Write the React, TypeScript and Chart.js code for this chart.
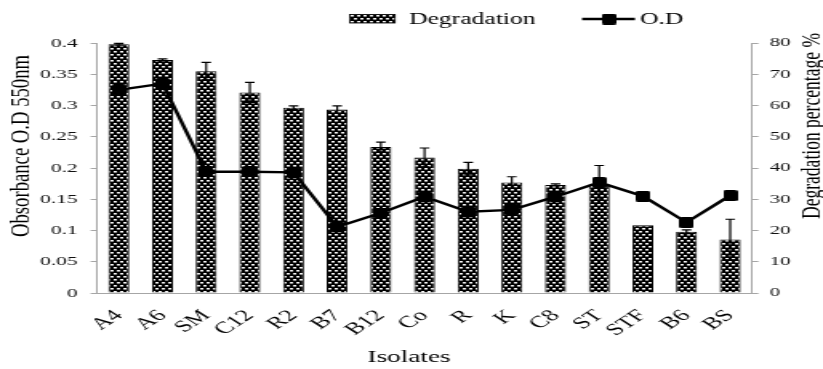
import React, { useEffect, useRef } from "react";
import { Chart, registerables } from "chart.js";

Chart.register(...registerables);

// ---- data ----
const isolates = ["A4", "A6", "SM", "C12", "R2", "B7", "B12", "Co", "R", "K", "C8", "ST", "STF", "B6", "BS"];
const degradation = [79.6, 74.6, 71.0, 64.2, 59.3, 58.7, 46.7, 43.4, 39.8, 35.4, 34.6, 34.8, 21.7, 19.6, 17.1];
const degradationError = [0.3, 0.3, 2.8, 3.2, 0.6, 1.2, 1.6, 3.0, 2.0, 1.8, 0.3, 6.0, 0, 0.6, 6.5];
const odValues = [0.325, 0.335, 0.194, 0.194, 0.193, 0.106, 0.128, 0.154, 0.13, 0.133, 0.154, 0.177, 0.155, 0.113, 0.156];
const odTicks = [0, 0.05, 0.1, 0.15, 0.2, 0.25, 0.3, 0.35, 0.4];
const degTicks = [0, 10, 20, 30, 40, 50, 60, 70, 80];
const legendLabels = ["Degradation", "O.D"];
const leftTitle = "Obsorbance O.D 550nm";
const rightTitle = "Degradation percentage %";
const xTitle = "Isolates";

// ---- layout (the figure is horizontally stretched) ----
const CSS_W = 823;
const H = 369;
const W = 514;
const cx = (css: number) => (css * W) / CSS_W;
const LEFT = cx(97);
const RIGHT = cx(752);
const TOP = 43;
const BOTTOM = 293;
const FONT = "'Liberation Serif', 'Times New Roman', serif";

function makePattern(ctx: CanvasRenderingContext2D) {
  const t = document.createElement("canvas");
  t.width = 4;
  t.height = 6;
  const g = t.getContext("2d")!;
  g.fillStyle = "#000";
  g.fillRect(0, 0, 4, 6);
  g.fillStyle = "#f4f4f4";
  g.fillRect(1, 0, 2, 1);
  g.fillRect(3, 3, 1, 1);
  g.fillRect(0, 3, 1, 1);
  g.fillStyle = "#8a8a8a";
  g.fillRect(1, 1, 2, 1);
  g.fillRect(3, 4, 1, 1);
  g.fillRect(0, 4, 1, 1);
  return ctx.createPattern(t, "repeat")!;
}

function makeMarker() {
  const m = document.createElement("canvas");
  m.width = 9;
  m.height = 11;
  const g = m.getContext("2d")!;
  g.fillStyle = "#000";
  g.beginPath();
  (g as any).roundRect ? (g as any).roundRect(0, 0, 9, 11, 1.5) : g.rect(0, 0, 9, 11);
  g.fill();
  return m;
}

function drawScaledText(
  ctx: CanvasRenderingContext2D,
  text: string,
  x: number,
  y: number,
  rot: number,
  size: number,
  targetLen: number
) {
  ctx.save();
  ctx.font = `${size}px ${FONT}`;
  const w = ctx.measureText(text).width;
  ctx.translate(x, y);
  ctx.rotate(rot);
  ctx.scale(targetLen / w, 1);
  ctx.fillStyle = "#000";
  ctx.textAlign = "center";
  ctx.textBaseline = "middle";
  ctx.fillText(text, 0, 0);
  ctx.restore();
}

export default function App() {
  const ref = useRef<HTMLCanvasElement | null>(null);

  useEffect(() => {
    document.body.style.margin = "0";
    const canvas = ref.current!;
    const ctx = canvas.getContext("2d")!;
    const pattern = makePattern(ctx);
    const marker = makeMarker();

    const overlay = {
      id: "overlay",
      afterDatasetsDraw(chart: any) {
        const c = chart.ctx as CanvasRenderingContext2D;
        const meta = chart.getDatasetMeta(0);
        const ys = chart.scales.y1;
        c.save();
        c.strokeStyle = "#000";
        c.lineWidth = 1.2;
        meta.data.forEach((el: any, i: number) => {
          const e = degradationError[i];
          if (!e) return;
          const x = el.x;
          const top = ys.getPixelForValue(degradation[i] + e);
          const bot = ys.getPixelForValue(degradation[i] - e);
          c.beginPath();
          c.moveTo(x, top);
          c.lineTo(x, bot);
          c.moveTo(x - 3, top);
          c.lineTo(x + 3, top);
          c.moveTo(x - 3, bot);
          c.lineTo(x + 3, bot);
          c.stroke();
        });
        c.restore();
      },
      afterDraw(chart: any) {
        const c = chart.ctx as CanvasRenderingContext2D;
        // axis titles
        drawScaledText(c, leftTitle, cx(21), 146, -Math.PI / 2, 17, 182);
        drawScaledText(c, rightTitle, cx(813), 126, -Math.PI / 2, 16, 186);
        c.save();
        c.font = `17px ${FONT}`;
        c.fillStyle = "#000";
        c.textAlign = "center";
        c.textBaseline = "middle";
        c.fillText(xTitle, cx(409), 358);
        c.restore();
        // legend
        c.save();
        c.fillStyle = pattern;
        const bx = cx(350);
        const bw = cx(395) - bx;
        c.fillRect(bx, 14.5, bw, 8.5);
        c.strokeStyle = "#000";
        c.lineWidth = 0.8;
        c.strokeRect(bx, 14.5, bw, 8.5);
        c.font = `16px ${FONT}`;
        c.fillStyle = "#000";
        c.textAlign = "left";
        c.textBaseline = "middle";
        c.fillText(legendLabels[0], cx(409), 19.5);
        c.beginPath();
        c.lineWidth = 2.5;
        c.moveTo(cx(582), 19);
        c.lineTo(cx(635), 19);
        c.stroke();
        c.drawImage(marker, cx(609) - marker.width / 2, 19 - marker.height / 2);
        c.fillText(legendLabels[1], cx(640), 19.5);
        c.restore();
      },
    };

    const axisGray = "#a6a6a6";
    const chart = new Chart(canvas, {
      data: {
        labels: isolates,
        datasets: [
          {
            type: "bar",
            label: legendLabels[0],
            data: degradation,
            yAxisID: "y1",
            backgroundColor: pattern as any,
            borderColor: "#000",
            borderWidth: 1,
            barPercentage: 0.48,
            categoryPercentage: 1,
            order: 2,
          },
          {
            type: "line",
            label: legendLabels[1],
            data: odValues,
            yAxisID: "y",
            borderColor: "#000",
            borderWidth: 2.5,
            pointStyle: marker as any,
            pointRadius: 6,
            pointBackgroundColor: "#000",
            tension: 0,
            order: 1,
          },
        ],
      } as any,
      options: {
        responsive: false,
        animation: false,
        devicePixelRatio: 1,
        layout: { padding: { top: TOP, left: 0, right: 0, bottom: 0 } },
        plugins: { legend: { display: false }, tooltip: { enabled: false } },
        scales: {
          x: {
            offset: true,
            grid: { display: false },
            border: { display: true, color: axisGray, width: 1 },
            ticks: {
              autoSkip: false,
              maxRotation: 45,
              minRotation: 45,
              padding: 5,
              color: "#000",
              font: { family: FONT, size: 16.5 },
            },
            afterFit: (s: any) => {
              s.height = H - BOTTOM;
            },
          },
          y: {
            position: "left",
            min: 0,
            max: 0.4,
            afterBuildTicks: (s: any) => {
              s.ticks = odTicks.map((v) => ({ value: v }));
            },
            ticks: {
              callback: (v: any) => String(Number(Number(v).toFixed(2))),
              padding: 8,
              color: "#111",
              font: { family: FONT, size: 13.5 },
            },
            grid: { drawOnChartArea: false, tickLength: 4, color: axisGray },
            border: { display: true, color: axisGray, width: 1 },
            afterFit: (s: any) => {
              s.width = LEFT;
            },
          },
          y1: {
            position: "right",
            min: 0,
            max: 80,
            afterBuildTicks: (s: any) => {
              s.ticks = degTicks.map((v) => ({ value: v }));
            },
            ticks: {
              padding: 7,
              color: "#111",
              font: { family: FONT, size: 13 },
            },
            grid: { drawOnChartArea: false, tickLength: 4, color: axisGray },
            border: { display: true, color: axisGray, width: 1 },
            afterFit: (s: any) => {
              s.width = W - RIGHT;
            },
          },
        },
      } as any,
      plugins: [overlay],
    });
    return () => chart.destroy();
  }, []);

  return (
    <canvas
      ref={ref}
      width={W}
      height={H}
      style={{ width: `${CSS_W}px`, height: `${H}px`, display: "block" }}
    />
  );
}
